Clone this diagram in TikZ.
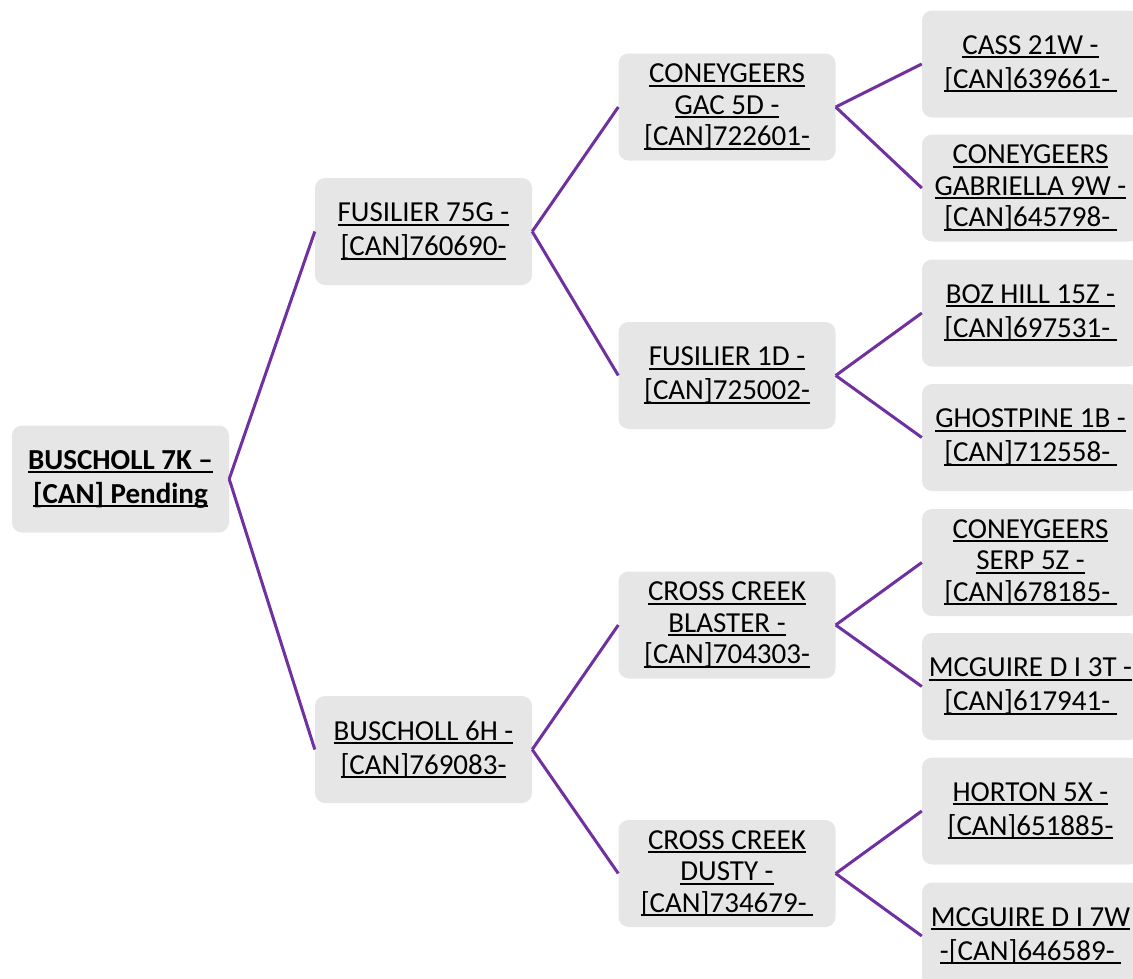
\documentclass[tikz,border=0pt]{standalone}
\usepackage{fontspec}
\setmainfont{Carlito}
\definecolor{boxgray}{HTML}{E7E6E6}
\definecolor{linkpurple}{HTML}{7030A0}
\newcommand\ulin[1]{\setbox0\hbox{#1}\rlap{\rule[-4pt]{\wd0}{2pt}}\box0}
\begin{document}
\begin{tikzpicture}[x=1pt,y=-1pt,
  box/.style={fill=boxgray, rounded corners=10pt, minimum width=217pt, minimum height=107pt,
    inner sep=0pt, align=center, font=\fontsize{29}{34}\selectfont},
  box3/.style={box, font=\fontsize{29}{31.5}\selectfont},
  link/.style={draw=linkpurple, line width=3pt}]
\useasboundingbox (0,0) rectangle (1133,978);
\clip (0,0) rectangle (1133,978);
% root
\node[box] (root) at (120.5,479) {\bfseries\ulin{BUSCHOLL 7K –}\\\bfseries\ulin{[CAN] Pending}};
% level 1
\node[box] (f75g) at (423.5,231.5) {\ulin{FUSILIER 75G -}\\\ulin{[CAN]760690-}};
\node[box] (b6h) at (423.5,749.5) {\ulin{BUSCHOLL 6H -}\\\ulin{[CAN]769083-}};
% level 2
\node[box3] (gac) at (727,107) {\ulin{CONEYGEERS}\\\ulin{GAC 5D -}\\\ulin{[CAN]722601-}};
\node[box] (f1d) at (727,375.5) {\ulin{FUSILIER 1D -}\\\ulin{[CAN]725002-}};
\node[box3] (ccb) at (727,625) {\ulin{CROSS CREEK}\\\ulin{BLASTER -}\\\ulin{[CAN]704303-}};
\node[box3] (ccd) at (727,873.5) {\ulin{CROSS CREEK}\\\ulin{DUSTY -}\\\ulin{[CAN]734679-\ }};
% level 3
\node[box] (cass) at (1030.5,64) {\ulin{CASS 21W -}\\\ulin{[CAN]639661-\ }};
\node[box3] (gab) at (1030.5,188) {\ulin{CONEYGEERS}\\\ulin{GABRIELLA 9W -}\\\ulin{[CAN]645798-\ }};
\node[box] (boz) at (1030.5,313) {\ulin{BOZ HILL 15Z -}\\\ulin{[CAN]697531-\ }};
\node[box] (ghost) at (1030.5,437.5) {\ulin{GHOSTPINE 1B -}\\\ulin{[CAN]712558-\ }};
\node[box3] (serp) at (1030.5,562.5) {\ulin{CONEYGEERS}\\\ulin{SERP 5Z -}\\\ulin{[CAN]678185-\ }};
\node[box] (mc3t) at (1030.5,686.5) {\ulin{MCGUIRE D I 3T -}\\\ulin{[CAN]617941-\ }};
\node[box] (hort) at (1030.5,811) {\ulin{HORTON 5X -}\\\ulin{[CAN]651885-}};
\node[box] (mc7w) at (1030.5,936) {\ulin{MCGUIRE D I 7W}\\\ulin{-[CAN]646589-\ }};
% connectors
\draw[link] (root.east) -- (f75g.west);
\draw[link] (root.east) -- (b6h.west);
\draw[link] (f75g.east) -- (gac.west);
\draw[link] (f75g.east) -- (f1d.west);
\draw[link] (b6h.east) -- (ccb.west);
\draw[link] (b6h.east) -- (ccd.west);
\draw[link] (gac.east) -- (cass.west);
\draw[link] (gac.east) -- (gab.west);
\draw[link] (f1d.east) -- (boz.west);
\draw[link] (f1d.east) -- (ghost.west);
\draw[link] (ccb.east) -- (serp.west);
\draw[link] (ccb.east) -- (mc3t.west);
\draw[link] (ccd.east) -- (hort.west);
\draw[link] (ccd.east) -- (mc7w.west);
\end{tikzpicture}
\end{document}
